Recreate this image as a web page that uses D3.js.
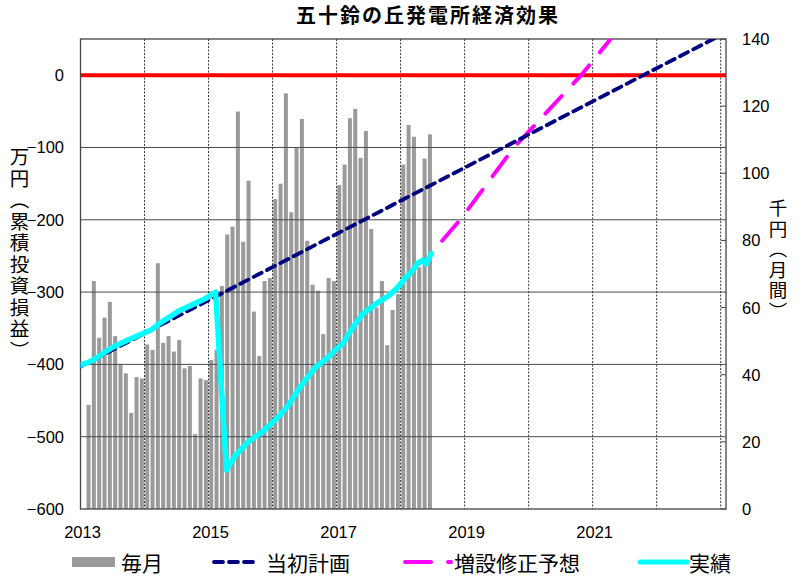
<!DOCTYPE html>
<html><head><meta charset="utf-8">
<script src="https://cdn.jsdelivr.net/npm/d3@7"></script>
<style>body{margin:0;background:#fff}svg{display:block}</style>
</head><body><svg id="c" width="800" height="578"></svg>
<script>
// ---------- data ----------
const title = "五十鈴の丘発電所経済効果";
const leftLabel = "万円（累積投資損益）";
const rightLabel = "千円（月間）";
const legendLabels = ["毎月","当初計画","増設修正予想","実績"];
const yearTicks = [2013, 2015, 2017, 2019, 2021];
const gridYears = [2014, 2015, 2016, 2017, 2018, 2019, 2020, 2021, 2022, 2023];
const leftTicks = [0, -100, -200, -300, -400, -500, -600];
const rightTicks = [0, 20, 40, 60, 80, 100, 120, 140];

// monthly income (千円), first bar = Feb 2013
const firstBarMonth = { year: 2013, month: 2 };
const monthly = [
  31.0, 67.9, 51.0, 57.0, 61.7, 51.5, 43.1, 40.4, 28.6, 39.3, 38.9,
  49.0, 47.4, 73.2, 49.5, 51.5, 46.9, 50.3, 41.9, 42.6, 22.3, 38.9, 38.4,
  44.4, 47.4, 66.4, 81.8, 84.1, 118.4, 79.6, 97.8, 58.8, 45.6, 67.9, 68.8,
  92.3, 96.9, 123.8, 88.4, 107.7, 116.2, 79.9, 66.8, 65.0, 52.1, 68.8, 67.9,
  96.5, 102.6, 116.4, 119.2, 104.6, 112.6, 83.4, 60.0, 67.9, 48.8, 59.3, 64.0,
  102.6, 114.4, 110.9, 72.0, 104.4, 111.6
];

// 当初計画 (万円, cumulative)
const planYears  = [2013.0, 2023.08];
const planValues = [-403, 59];

// 実績 (万円, cumulative)
const actualYears  = [2013.00,2013.10,2013.20,2013.35,2013.51,2013.75,2013.98,2014.11,2014.24,2014.40,2014.56,2014.76,2014.95,2015.11,
  2015.28,2015.41,2015.62,2015.83,2015.99,2016.12,2016.25,2016.45,2016.66,2016.87,2016.97,2017.10,2017.26,2017.41,2017.62,2017.83,
  2017.96,2018.07,2018.17,2018.27,2018.35,2018.40,2018.48];
const actualValues = [-401,-398,-394,-385,-376,-366,-357,-352,-343,-334,-325,-317,-309,-300,
  -546,-527,-507,-494,-481,-470,-456,-429,-405,-390,-381,-371,-348,-330,-316,-304,
  -293,-281,-272,-260,-256,-261,-246.5];

// 増設修正予想 projection after the last actual month
const forecastYears  = [2018.48, 2018.95, 2019.77, 2020.82, 2021.30];
const forecastValues = [-246.5, -198, -100, 0, 52];

// ---------- layout ----------
const svg = d3.select("#c");
const L = 80.5, R = 726, T = 39, B = 509;
const x = d3.scaleLinear().domain([2013, 2023.083]).range([L, R]);
const yL = d3.scaleLinear().domain([-600, 50]).range([B, T]);
const yR = d3.scaleLinear().domain([0, 140]).range([B, T]);
const numFont = "'Liberation Sans', Arial, sans-serif";
const jpFont = "'Noto Sans CJK JP', 'Noto Sans', sans-serif";

svg.append("defs").append("clipPath").attr("id","plot")
  .append("rect").attr("x",L).attr("y",T).attr("width",R-L).attr("height",B-T);

// bars
const barData = monthly.map((v,i)=>({t: firstBarMonth.year + (firstBarMonth.month - 1 + i + 0.5)/12, v}));
svg.append("g").selectAll("rect").data(barData).join("rect")
  .attr("x", d => x(d.t) - 2).attr("width", 4)
  .attr("y", d => yR(d.v)).attr("height", d => yR(0) - yR(d.v))
  .attr("fill", "#9a9a9a");

// horizontal grid
svg.append("g").selectAll("line").data(leftTicks.filter(v=>v>-600 && v<0)).join("line")
  .attr("x1", L).attr("x2", R).attr("y1", d=>yL(d)).attr("y2", d=>yL(d))
  .attr("stroke", "#4a4a4a").attr("stroke-width", 1);
// vertical dotted grid
svg.append("g").selectAll("line").data(gridYears).join("line")
  .attr("x1", d=>x(d)).attr("x2", d=>x(d)).attr("y1", T).attr("y2", B)
  .attr("stroke", "#222").attr("stroke-width", 0.9).attr("stroke-dasharray", "2,1.5");

// zero line
svg.append("line").attr("x1", L).attr("x2", R).attr("y1", yL(0)).attr("y2", yL(0))
  .attr("stroke", "#ff0000").attr("stroke-width", 4);

// border
svg.append("rect").attr("x", L).attr("y", T).attr("width", R-L).attr("height", B-T)
  .attr("fill", "none").attr("stroke", "#444").attr("stroke-width", 1.3);

// right ticks (inward)
svg.append("g").selectAll("line").data(rightTicks).join("line")
  .attr("x1", R-5).attr("x2", R).attr("y1", d=>yR(d)).attr("y2", d=>yR(d))
  .attr("stroke", "#444").attr("stroke-width", 1);

// lines
const line = d3.line().x(d=>x(d[0])).y(d=>yL(d[1]));
const actual = actualYears.map((t,i)=>[t, actualValues[i]]);
const forecast = actual.concat(forecastYears.slice(1).map((t,i)=>[t, forecastValues[i+1]]));
const plan = planYears.map((t,i)=>[t, planValues[i]]);
const gl = svg.append("g").attr("clip-path","url(#plot)");
gl.append("path").attr("d", line(forecast)).attr("fill","none")
  .attr("stroke","#ff00ff").attr("stroke-width",4).attr("stroke-dasharray","24,17")
  .attr("stroke-linecap","round").attr("stroke-linejoin","round");
gl.append("path").attr("d", line(plan)).attr("fill","none")
  .attr("stroke","#000080").attr("stroke-width",3.8).attr("stroke-dasharray","9,6")
  .attr("stroke-linecap","round");
gl.append("path").attr("d", line(actual)).attr("fill","none")
  .attr("stroke","#00ffff").attr("stroke-width",5.5)
  .attr("stroke-linejoin","round").attr("stroke-linecap","round");

// axis labels
svg.append("g").selectAll("text").data(leftTicks).join("text")
  .attr("x", 64).attr("y", d=>yL(d)).attr("dy","0.36em").attr("text-anchor","end")
  .attr("font-family", numFont).attr("font-size", 16.5).attr("fill","#000")
  .text(d => d < 0 ? "\u2212" + Math.abs(d) : d);
svg.append("g").selectAll("text").data(rightTicks).join("text")
  .attr("x", 742).attr("y", d=>yR(d)).attr("dy","0.36em").attr("text-anchor","start")
  .attr("font-family", numFont).attr("font-size", 16.5).attr("fill","#000")
  .text(d => d);
svg.append("g").selectAll("text").data(yearTicks).join("text")
  .attr("x", d=>x(d)+2).attr("y", 538).attr("text-anchor","middle")
  .attr("font-family", numFont).attr("font-size", 16.5).attr("fill","#000")
  .text(d => d);

// title
svg.append("text").attr("x", 296).attr("y", 14).attr("dominant-baseline","central")
  .attr("font-family", jpFont).attr("font-weight", 700).attr("font-size", 20)
  .attr("letter-spacing", "2px").attr("fill","#000").text(title);

// vertical axis titles
svg.append("text").attr("x", 19.5).attr("y", 147)
  .style("writing-mode", "vertical-rl").attr("letter-spacing", "2px")
  .attr("font-family", jpFont).attr("font-size", 19.5).attr("fill","#000").text(leftLabel);
svg.append("text").attr("x", 778).attr("y", 199)
  .style("writing-mode", "vertical-rl").attr("letter-spacing", "2px")
  .attr("font-family", jpFont).attr("font-size", 18.5).attr("fill","#000").text(rightLabel);

// legend
const ly = 562;
const lg = svg.append("g");
lg.append("rect").attr("x", 72).attr("y", ly-5).attr("width", 43).attr("height", 10).attr("fill", "#9a9a9a");
lg.append("line").attr("x1", 214).attr("x2", 254).attr("y1", ly).attr("y2", ly)
  .attr("stroke","#000080").attr("stroke-width",3.8).attr("stroke-dasharray","9,6").attr("stroke-linecap","round");
lg.append("line").attr("x1", 405).attr("x2", 451).attr("y1", ly).attr("y2", ly)
  .attr("stroke","#ff00ff").attr("stroke-width",4).attr("stroke-dasharray","26,17").attr("stroke-linecap","round");
lg.append("line").attr("x1", 640).attr("x2", 687).attr("y1", ly).attr("y2", ly)
  .attr("stroke","#00ffff").attr("stroke-width",5).attr("stroke-linecap","round");
const legendX = [121, 266, 454, 689];
lg.selectAll("text.lt").data(legendLabels).join("text").attr("class","lt")
  .attr("x", (d,i)=>legendX[i]).attr("y", ly).attr("dominant-baseline","central")
  .attr("font-family", jpFont).attr("font-size", 21).attr("fill","#000").text(d=>d);
</script></body></html>
